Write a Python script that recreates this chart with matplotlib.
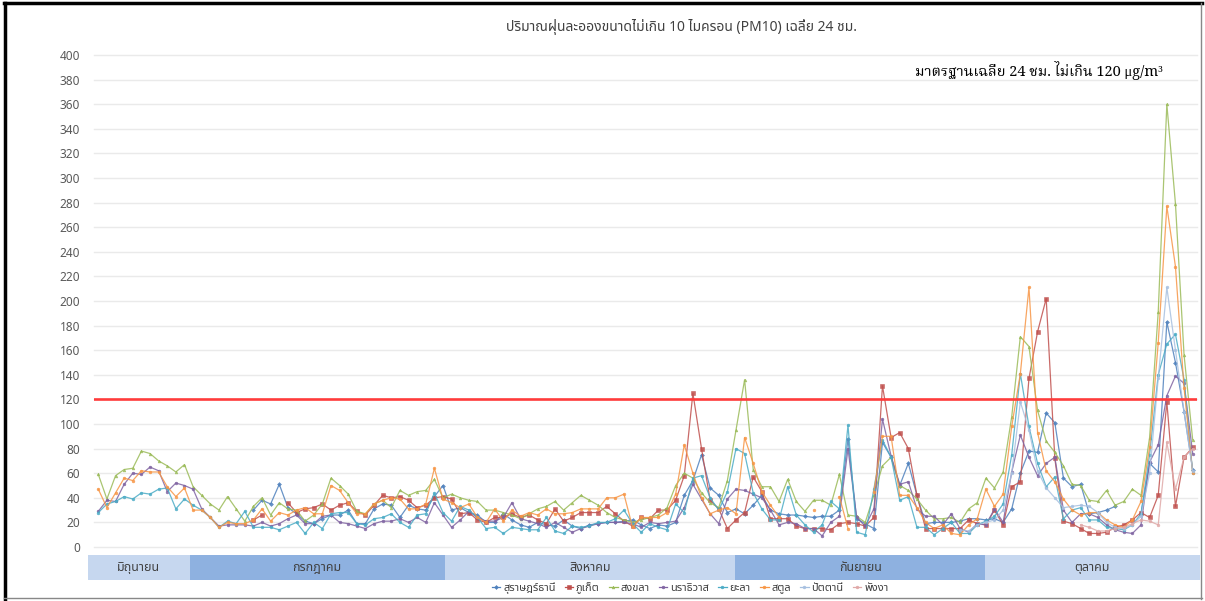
import numpy as np
import matplotlib
matplotlib.use("Agg")
import matplotlib.pyplot as plt
from matplotlib import font_manager
from matplotlib.ft2font import FT2Font
from matplotlib.lines import Line2D
from matplotlib.patches import Rectangle
import matplotlib.transforms as mtransforms

nan = np.nan

# ---------------- data ----------------
series_names = ["สุราษฎร์ธานี", "ภูเก็ต", "สงขลา", "นราธิวาส", "ยะลา", "สตูล", "ปัตตานี", "พังงา"]

surat = [nan] * 18 + [30, 38, 35, 51, 32, 27, 21, 19, 23, 26, 26, 30, 19, 19, 31, 35, 34, 24, 34, 31, 30, 41, 50] + \
    [30, 32, 28, 26, 20, 20, 27, 22, 18, 16, 20, 18, 17, 22, 17, 15, 18, 19, 20, 20, 21, 22, 18, 15, 18, 17, 20] + \
    [42, 54] + \
    [75, 48, 42, 28, 31, 27, 34, 42, 30, 27, 26, 26, 25, 24, 25, 25, 30, 88, 23, 19, 15, 85, 73, 50, 68, 42, 19, 20, 20, 20, 21] + \
    [23, 23, 22, 23, 20, 31, 60, 78, 77, 109, 101, 56, 49, 51, 27, 28, 30, 33, nan, nan, 27, 68, 61, 183, 150, 110, 63]

phuket = [nan] * 18 + [22, 26, nan, nan] + \
    [36, 28, 31, 32, 35, 30, 34, 36, 29, 26, 34, 42, 40, 41, 38, 32, 34, 40, 41, 39, 27, 28, 22] + \
    [20, 24, 24, 27, 24, 26, 22, 19, 31, 21, 24, 28, 28, 28, 33, 27, 21, 17, 24, 23, 30, 30, 38, 58, 125] + \
    [80, 38, 31, 15, 22, 28, 57, 45, 23, 23, 23, 17, 15, 15, 15, 14, 19, 20, 19, 17, 24, 131, 89, 93, 80, 42, 15, 15, 15, 15, 15] + \
    [22, 19, 18, 30, 18, 49, 53, 137, 175, 202, 72, 21, 19, 15, 11, 11, 12, 16, 18, 22, 28, 24, 42, 118, 33, 73, 81]

songkhla = [59, 39, 58, 63, 64, 78, 76, 70, 66, 61, 67, 49, 42, 35, 30, 41, 31, 21,
            33, 40, 26, 36, 31, 30, 21, 26, 35, 56, 50, 43, 29, 27, 35, 38, 32, 46, 42, 45, 46, 55, 40, 43, 40, 38, 37,
            30, 30, 28, 26, 23, 27, 31, 33, 37, 30, 36, 42, 38, 34,
            28, 24, 22, 20, 22, 24, 26, 32,
            50, 60, 56, 44, 36, 32, 54, 95,
            136, 63, 49, 49, 37, 55, 37, 29, 38, 38, 34, 59, 26, 25, 20, 42, 66, 73, 50, 46, 39, 30, 23, 23, 24, 20,
            31, 36, 56, 48, 61, 106, 171, 163, 111, 86, 77, 66, 51, 50, 38, 37, 46, 34, 37, 47, 42, 89, 191, 360, 279, 156, 87]

narathiwat = [29, 38, 37, 51, 60, 59, 65, 62, 45, 52, 50, 47, 31, 24, 17, 18, 18, 18,
              17, 20, 17, 19, 23, 26, 19, 19, 25, 26, 20, 19, 17, 15, 19, 21, 21, 23, 20, 24, 20, 36, 26, 16, 22, 29, 24,
              21, 21, 24, 36, 23, 21, 19, 16, 20, 16, 12, 15, 17, 19, 20, 20, 20, 19, 16, 20, 19, 20, 21, 32, 51,
              39, 27, 19, 39, 47, 46, 43, 40, 30, 18, 20, 19, 15, 15, 9, 20, 25, 80, 24, 17, 31, 104, 74, 51, 53, 31, 25, 25, 18, 27, 15,
              12, 19, 18, 31, 20, 61, 91, 73, 58, 68, 73, 30, 20, 27, 27, 24, 18, 14, 12, 11, 18, 69, 83, 123, 139, 133, 76]

yala = [28, 35, 37, 41, 39, 44, 43, 47, 48, 31, 39, 34, 30, 24, 16, 21, 19, 29,
        16, 16, 16, 14, 17, 20, 11, 20, 15, 27, 28, 28, 19, 18, 23, 24, 27, 20, 16, 26, 27, 44, 28, 21, 33, 30, 24,
        15, 16, 11, 16, 15, 14, 14, 24, 13, 11, 17, 16, 17, 20, 20, 23, 30, 19, 12, 19, 16, 14, 35, 28, 56,
        58, 40, 30, 45, 80, 76, 44, 31, 22, 22, 49, 26, 18, 12, 18, 37, 31, 99, 12, 10, 47, 87, 73, 38, 41, 16, 16, 10, 15, 20, 11,
        11, 18, 21, 25, 35, 75, 141, 98, 68, 49, 57, 23, 30, 32, 22, 22, 16, 15, 14, 18, 27, 75, 140, 165, 173, 136, 60]

satun = [47, 32, 44, 56, 54, 62, 61, 61, 49, 41, 48, 30, 30, 24, 16, 20, 19, 19,
         22, 31, 21, 28, 26, 30, 32, 27, 27, 50, 46, 36, 27, 27, 35, 38, 40, 39, 31, 31, 35, 64, 39, 36, 32, 35, 24,
         20, 31, 21, 30, 25, 28, 26, 31, 27, 27, 28, 31, 31, 31, 40, 40, 43, 16, 24, 24, 24, 28, 43, 83, 60,
         40, 27, 30, 32, 27,
         89, 68, 45, 34, 24,
         nan, nan, nan, 30, nan, nan, 41, 15, nan, nan,
         45, 90, 90, 42, 42, 32, 20, 15, 18, 11, 10,
         18, 23, 47, 33, 43, 98, 141, 211, 93, 62, 53, 39, 30, 26, 28, 28, 22, 18, 16, 22, 37, 81, 166, 277, 228, 129, 60]

pattani = [nan] * 100 + [14, 13, 18, 20, 22, 30, 60, 118, 95, 62, 48, 40, 32, 33, 34, 33, 28, 20, 16, 15, 18, 25, 60,
                         137, 211, 160, 110, 62]

phangnga = [nan] * 114 + [18, 16, 13, 13, 15, 16, 19, 22, 21, 18, 85, 47, 73, 80]

series_values = [surat, phuket, songkhla, narathiwat, yala, satun, pattani, phangnga]
series_colors = ["#4F81BD", "#C0504D", "#9BBB59", "#8064A2", "#4BACC6", "#F79646", "#A7C0E0", "#E0A9A8"]
series_markers = ["D", "s", "^", "o", "o", "o", "o", "o"]

months = ["มิถุนายน", "กรกฎาคม", "สิงหาคม", "กันยายน", "ตุลาคม"]
month_edges = [-1.2, 10.6, 40.2, 73.9, 102.9, 127.8]
month_colors = ["#C6D7EF", "#8EB1E0", "#C6D7EF", "#8EB1E0", "#C6D7EF"]

yticks = list(range(0, 401, 20))
standard = 120

title = "ปริมาณฝุ่นละอองขนาดไม่เกิน 10 ไมครอน (PM10) เฉลี่ย 24 ชม."
std_text = "มาตรฐานเฉลี่ย 24 ชม. ไม่เกิน 120 μg/m³"

# ---------------- fonts ----------------
def thai_fonts():
    found = {}
    for f in font_manager.fontManager.ttflist:
        try:
            cmap = FT2Font(f.fname).get_charmap()
        except Exception:
            continue
        if 0x0E01 in cmap:
            found.setdefault(f.name, f.fname)
    return found

found = thai_fonts()
sans_pref = ["Noto Sans Thai", "Noto Sans Thai UI", "Leelawadee UI", "Tahoma", "Loma", "Garuda", "Waree",
             "Umpush", "Sarabun"]
serif_pref = ["Noto Serif Thai", "Norasi", "Kinnari", "Laksaman", "TH Sarabun New", "Sawasdee"]
thai_sans = next((p for p in sans_pref if p in found), sorted(found)[0] if found else None)
thai_serif = next((p for p in serif_pref if p in found), thai_sans)

fam = [thai_sans, "DejaVu Sans"] if thai_sans else ["DejaVu Sans"]
serif_fam = [thai_serif, "Liberation Serif", "DejaVu Serif"] if thai_serif else ["Liberation Serif", "DejaVu Serif"]
plt.rcParams["font.family"] = fam

# ---------------- figure ----------------
W, H = 1205, 601
fig = plt.figure(figsize=(W / 100, H / 100), dpi=100)
fig.patch.set_facecolor("white")

def fx(px):
    return px / W

def fy(py):
    return 1 - py / H

ax_left, ax_right, ax_top, ax_bottom = 94, 1197, 55, 547
ax = fig.add_axes([fx(ax_left), fy(ax_bottom), (ax_right - ax_left) / W, (ax_bottom - ax_top) / H])
n = len(songkhla)
x = np.arange(n)
ax.set_xlim(-0.5, n - 0.5)
ax.set_ylim(0, 400)
ax.set_yticks(yticks)
ax.set_xticks([])
for s in ax.spines.values():
    s.set_visible(False)
ax.tick_params(axis="y", length=0, pad=10, labelsize=8.5, labelcolor="#595959")
ax.grid(axis="y", color="#EAEAEA", lw=1.0)
ax.set_axisbelow(True)
for gl in ax.get_ygridlines():
    gl.set_clip_on(False)

for vals, col, mk, name in zip(series_values, series_colors, series_markers, series_names):
    v = np.array(vals, dtype=float)
    ms = 2.6 if mk == "s" else 2.0
    ax.plot(x, v, color=col, lw=0.9, marker=mk, ms=ms, mew=0.4, mec=col, mfc=col, alpha=0.85, zorder=3)

ax.axhline(standard, color="#FF3B3B", lw=1.9, zorder=5)

# title and standard label
fig.text(fx(682), fy(27), title, ha="center", va="center", fontsize=10, color="#404040")
fig.text(fx(915), fy(71), std_text, ha="left", va="center", fontsize=10.5, color="black", family=serif_fam)

# month bands
trans = mtransforms.blended_transform_factory(ax.transData, fig.transFigure)
band_y0, band_y1 = fy(580), fy(555)
for i, m in enumerate(months):
    x0, x1 = month_edges[i], month_edges[i + 1]
    ax.add_patch(Rectangle((x0, band_y0), x1 - x0, band_y1 - band_y0, transform=trans,
                           facecolor=month_colors[i], edgecolor="none", clip_on=False, zorder=1))
    ax.text((x0 + x1) / 2, (band_y0 + band_y1) / 2, m, transform=trans, ha="center", va="center",
            fontsize=9, color="#404040", clip_on=False)

# legend
handles = [Line2D([0], [0], color=c, lw=0.9, marker=mk, ms=2.6 if mk == "s" else 2.0, mew=0.4, mfc=c, mec=c)
           for c, mk in zip(series_colors, series_markers)]
fig.legend(handles, series_names, loc="center", bbox_to_anchor=(fx(690), fy(588)), ncol=8, frameon=False,
           fontsize=8, handlelength=0.8, handletextpad=0.25, columnspacing=0.8, labelcolor="#404040")

# outer frame
fig.add_artist(Line2D([fx(5), fx(5)], [fy(3), fy(599)], color="black", lw=2.5, transform=fig.transFigure))
fig.add_artist(Line2D([fx(4), fx(1202)], [fy(3), fy(3)], color="black", lw=2.5, transform=fig.transFigure))
fig.add_artist(Line2D([fx(1201), fx(1201)], [fy(3), fy(599)], color="#888888", lw=1.0, transform=fig.transFigure))
fig.add_artist(Line2D([fx(4), fx(1202)], [fy(598), fy(598)], color="#888888", lw=1.0, transform=fig.transFigure))

fig.savefig("out.png", dpi=100, facecolor="white")
